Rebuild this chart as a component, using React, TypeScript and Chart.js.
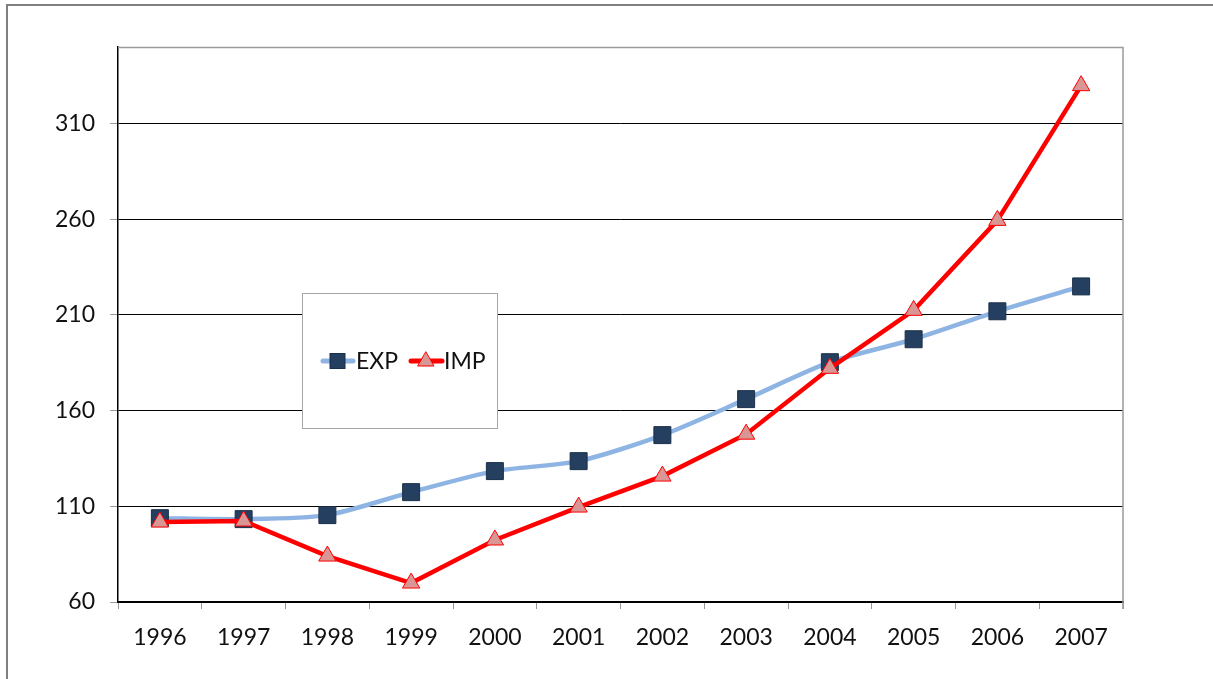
import React, { useEffect, useRef } from "react";
import { Chart, registerables } from "chart.js";

Chart.register(...registerables);

const years = ["1996", "1997", "1998", "1999", "2000", "2001", "2002", "2003", "2004", "2005", "2006", "2007"];
const expValues = [103.8, 103.3, 105.4, 117.4, 128.4, 133.6, 147.2, 166.0, 185.3, 197.3, 211.9, 224.9];
const impValues = [101.8, 102.3, 84.0, 69.9, 92.4, 109.6, 125.8, 147.7, 182.1, 212.4, 259.4, 329.8];
const yTickValues = [60, 110, 160, 210, 260, 310];
const yMin = 60;
const yMax = 350;

const FONT = "Lato, 'Open Sans', sans-serif";
const EXP_LINE = "#8EB4E3";
const EXP_FILL = "#243F60";
const EXP_BORDER = "#1B2F48";
const IMP_LINE = "#FF0000";
const IMP_FILL = "#DA9694";

const framePlugin = {
  id: "framePlugin",
  afterDraw(chart: any) {
    const ctx = chart.ctx;
    const { left, right, top, bottom } = chart.chartArea;
    ctx.save();
    ctx.strokeStyle = "#7F7F7F";
    ctx.lineWidth = 2;
    ctx.strokeRect(7, 5, 1400, 900);
    ctx.strokeStyle = "#9A9A9A";
    ctx.lineWidth = 1.5;
    ctx.beginPath();
    ctx.moveTo(left, top + 0.5);
    ctx.lineTo(right, top + 0.5);
    ctx.lineTo(right, bottom + 7);
    ctx.stroke();

    const bx = 302, by = 293, bw = 195, bh = 135;
    ctx.fillStyle = "#FFFFFF";
    ctx.fillRect(bx, by, bw, bh);
    ctx.strokeStyle = "#A6A6A6";
    ctx.lineWidth = 1;
    ctx.strokeRect(bx + 0.5, by + 0.5, bw, bh);

    const ly = 361;
    ctx.lineCap = "round";
    ctx.strokeStyle = EXP_LINE;
    ctx.lineWidth = 5;
    ctx.beginPath();
    ctx.moveTo(323, ly);
    ctx.lineTo(353, ly);
    ctx.stroke();
    ctx.fillStyle = EXP_FILL;
    ctx.fillRect(330, ly - 7.5, 15, 15);
    ctx.strokeStyle = EXP_BORDER;
    ctx.lineWidth = 1;
    ctx.strokeRect(330, ly - 7.5, 15, 15);
    ctx.strokeStyle = IMP_LINE;
    ctx.lineWidth = 5;
    ctx.beginPath();
    ctx.moveTo(411, ly);
    ctx.lineTo(442, ly);
    ctx.stroke();
    ctx.fillStyle = IMP_FILL;
    ctx.strokeStyle = IMP_LINE;
    ctx.lineWidth = 1;
    ctx.beginPath();
    ctx.moveTo(426, ly - 9);
    ctx.lineTo(434, ly + 5);
    ctx.lineTo(418, ly + 5);
    ctx.closePath();
    ctx.fill();
    ctx.stroke();

    ctx.fillStyle = "#111111";
    ctx.font = `23px ${FONT}`;
    ctx.textAlign = "left";
    ctx.textBaseline = "middle";
    ctx.fillText("EXP", 356, ly + 1);
    ctx.fillText("IMP", 444, ly + 1);
    ctx.restore();
  },
};

export default function App() {
  const ref = useRef<HTMLCanvasElement | null>(null);

  useEffect(() => {
    document.body.style.margin = "0";
    const canvas = ref.current;
    if (!canvas) return;
    const chart = new Chart(canvas, {
      type: "line",
      data: {
        labels: years,
        datasets: [
          {
            label: "IMP",
            data: impValues,
            order: 0,
            borderColor: IMP_LINE,
            borderWidth: 4.5,
            tension: 0,
            pointStyle: "triangle",
            pointRadius: 10,
            pointBackgroundColor: IMP_FILL,
            pointBorderColor: IMP_LINE,
            pointBorderWidth: 1,
          },
          {
            label: "EXP",
            data: expValues,
            order: 1,
            borderColor: EXP_LINE,
            borderWidth: 4.5,
            tension: 0.25,
            pointStyle: "rect",
            pointRadius: 12,
            pointBackgroundColor: EXP_FILL,
            pointBorderColor: EXP_BORDER,
            pointBorderWidth: 1,
          },
        ],
      },
      options: {
        responsive: false,
        animation: false,
        layout: { padding: { left: 0, top: 47, right: 90, bottom: 0 } },
        plugins: { legend: { display: false }, tooltip: { enabled: false } },
        scales: {
          x: {
            offset: true,
            grid: {
              offset: true,
              drawOnChartArea: false,
              tickLength: 7,
              tickColor: "#9A9A9A",
            },
            border: { color: "#000000", width: 1.5 },
            ticks: {
              color: "#111111",
              font: { family: FONT, size: 23 },
              padding: 15,
              maxRotation: 0,
            },
            afterFit(scale: any) {
              scale.height = 77;
            },
          },
          y: {
            type: "linear",
            min: yMin,
            max: yMax,
            grid: {
              color: "#000000",
              lineWidth: 1,
              tickLength: 8,
              tickColor: "#9A9A9A",
            },
            border: { color: "#000000", width: 1.5 },
            ticks: {
              color: "#111111",
              font: { family: FONT, size: 23 },
              padding: 15,
            },
            afterBuildTicks(scale: any) {
              scale.ticks = yTickValues.map((v) => ({ value: v }));
            },
            afterFit(scale: any) {
              scale.width = 118;
            },
          },
        },
      },
      plugins: [framePlugin],
    });
    return () => chart.destroy();
  }, []);

  return <canvas ref={ref} width={1213} height={679} style={{ display: "block" }} />;
}
